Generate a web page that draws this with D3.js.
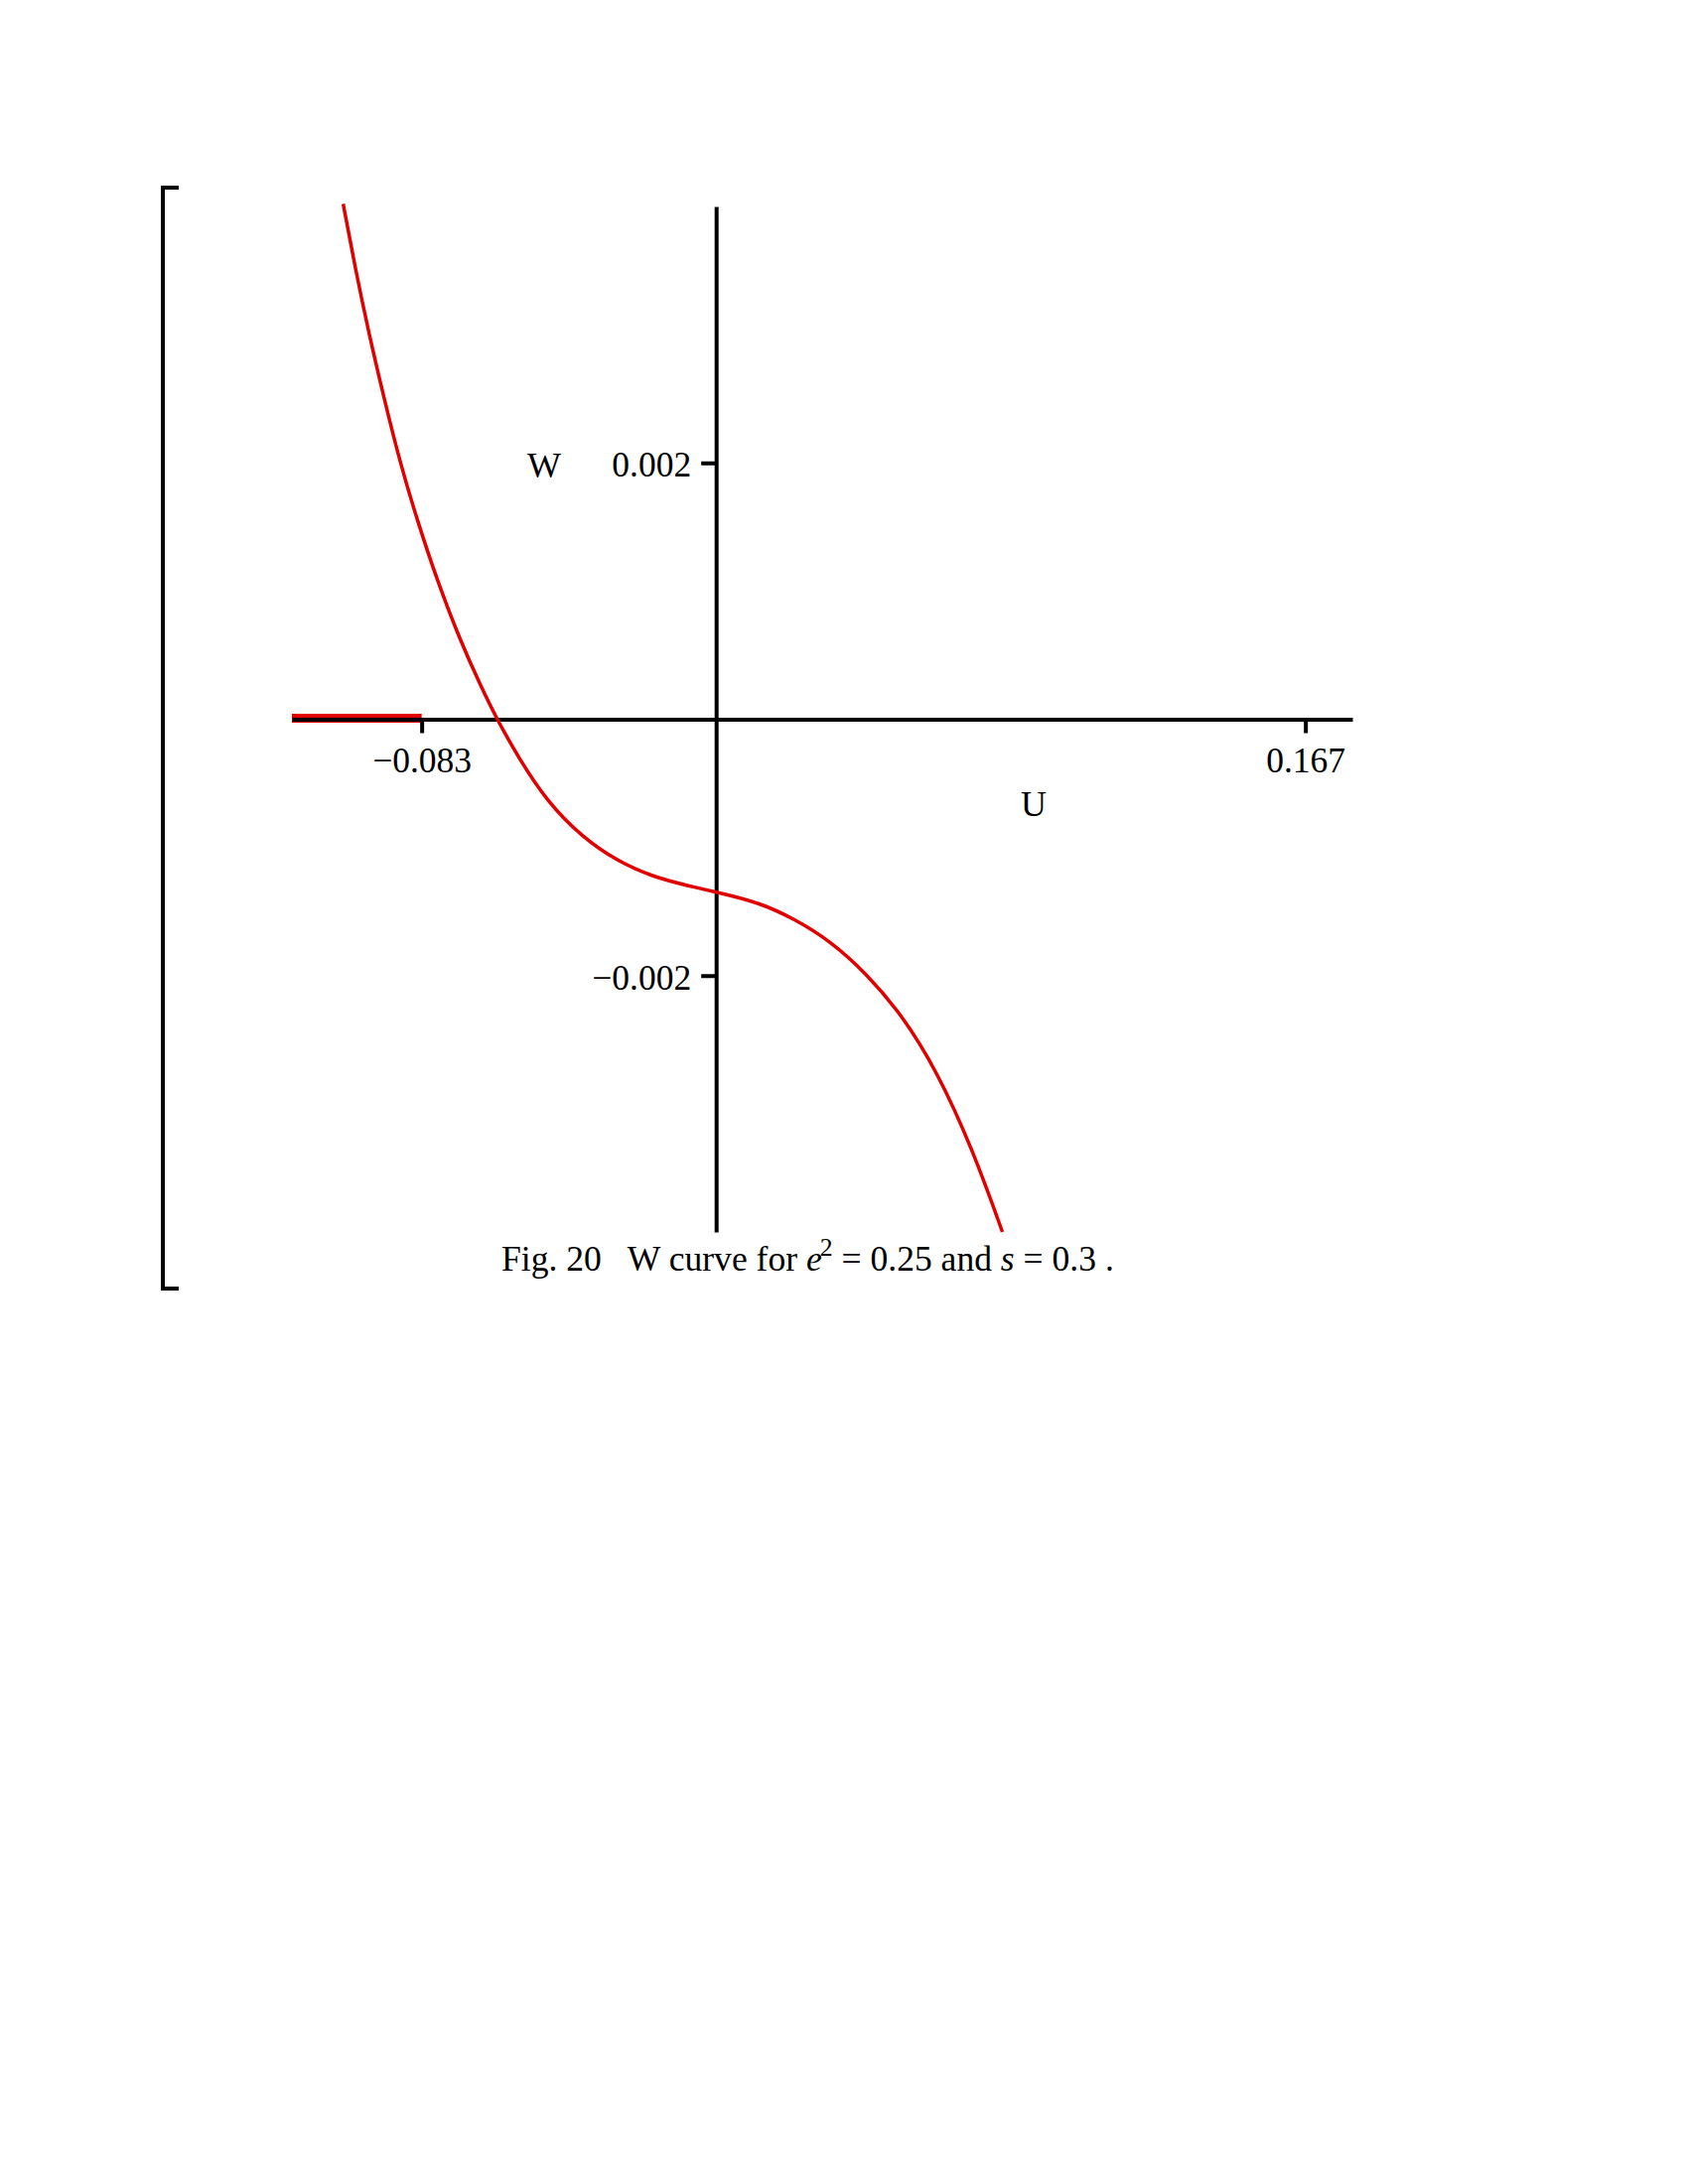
<!DOCTYPE html>
<html>
<head>
<meta charset="utf-8">
<script src="https://cdn.jsdelivr.net/npm/d3@7"></script>
<style>
  html, body { margin: 0; padding: 0; background: #fff; }
  svg { display: block; }
  text { font-family: "Liberation Serif", "Times New Roman", serif; fill: #000; }
</style>
</head>
<body>
<svg id="chart" width="1700" height="2200"></svg>
<script>
// ---- data ----
const uValues = [-0.1055, -0.1021, -0.0983, -0.0940, -0.0892, -0.0844, -0.0790, -0.0725, -0.0661, -0.0620,
                 -0.0559, -0.0479, -0.0379, -0.0278, -0.0178, -0.0078, 0.0003, 0.0123, 0.0223, 0.0323,
                 0.0424, 0.0524, 0.0624, 0.0725, 0.0810];
const wValues = [0.00402, 0.00352, 0.00302, 0.00251, 0.00198, 0.00154, 0.00109, 0.00062, 0.00023, 0.0,
                 -0.00030, -0.00064, -0.00092, -0.00111, -0.00123, -0.00130, -0.00135, -0.00143, -0.00156, -0.00173,
                 -0.00198, -0.00230, -0.00274, -0.00335, -0.00400];
const segU = [-0.12, -0.0833];
const segW = [0, 0];
const xTickValues = [-0.0833, 0.1667];
const xTickLabels = ["\u22120.083", "0.167"];
const yTickValues = [0.002, -0.002];
const yTickLabels = ["0.002", "\u22120.002"];
const xDomain = [-0.12, 0.18];
const yDomain = [-0.004, 0.004];

const svg = d3.select("#chart");
const x = d3.scaleLinear().domain(xDomain).range([294, 1362]);
const y = d3.scaleLinear().domain(yDomain).range([1241, 208]);

// bracket on the left
svg.append("path")
  .attr("d", "M180,189 H164 V1298 H180")
  .attr("fill", "none").attr("stroke", "#000").attr("stroke-width", 4);

const line = d3.line().x(d => x(d[0])).y(d => y(d[1]));

// red segment on the axis
svg.append("path")
  .datum(segU.map((u, i) => [u, segW[i]]))
  .attr("d", line)
  .attr("transform", "translate(0,-1)")
  .attr("fill", "none").attr("stroke", "#e00000").attr("stroke-width", 9);

// x axis
const gx = svg.append("g")
  .attr("transform", `translate(0,${y(0)})`)
  .call(d3.axisBottom(x).tickValues(xTickValues).tickSize(14).tickSizeOuter(0).tickPadding(14)
        .tickFormat((d, i) => xTickLabels[i]));
// y axis
const gy = svg.append("g")
  .attr("transform", `translate(${x(0)},0)`)
  .call(d3.axisLeft(y).tickValues(yTickValues).tickSize(15).tickSizeOuter(0).tickPadding(10)
        .tickFormat((d, i) => yTickLabels[i]));

[gx, gy].forEach(g => {
  g.select(".domain").attr("stroke", "#000").attr("stroke-width", 4);
  g.selectAll(".tick line").attr("stroke", "#000").attr("stroke-width", 4);
  g.selectAll(".tick text")
    .attr("font-family", "Liberation Serif, Times New Roman, serif")
    .attr("font-size", 35.5).attr("fill", "#000");
});
gy.selectAll(".tick text").attr("dy", "0.38em");

// curve
svg.append("path")
  .datum(uValues.map((u, i) => [u, wValues[i]]))
  .attr("d", d3.line().x(d => x(d[0])).y(d => y(d[1])).curve(d3.curveBasis))
  .attr("fill", "none").attr("stroke", "#e00000").attr("stroke-width", 3.5)
  .attr("stroke-linejoin", "round");

// axis names
svg.append("text").attr("x", 548).attr("y", 481).attr("text-anchor", "middle")
  .attr("font-size", 36).text("W");
svg.append("text").attr("x", 1041).attr("y", 822).attr("text-anchor", "middle")
  .attr("font-size", 36).text("U");

// caption
const cap = svg.append("text").attr("font-size", 36).attr("xml:space", "preserve")
  .style("white-space", "pre");
cap.append("tspan").text("Fig. 20   W curve for ");
cap.append("tspan").attr("font-style", "italic").text("e");
cap.append("tspan").attr("font-size", 26).attr("dy", -15).attr("dx", -2).text("2");
cap.append("tspan").attr("dy", 15).text(" = 0.25 and ");
cap.append("tspan").attr("font-style", "italic").text("s");
cap.append("tspan").text(" = 0.3 .");
const w = cap.node().getBBox().width;
cap.attr("transform", `translate(505,1280) scale(${617 / w},1)`);
</script>
</body>
</html>
